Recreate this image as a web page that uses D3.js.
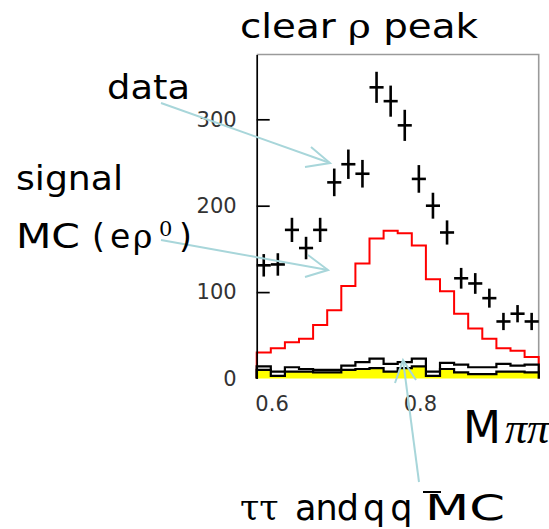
<!DOCTYPE html>
<html lang="en">
<head>
  <meta charset="UTF-8">
  <title>clear rho peak</title>
  <script src="https://d3js.org/d3.v7.min.js" charset="utf-8"></script>
  <style>
    body { margin: 0; background: #fff; }
    .note { font-family: 'DejaVu Sans', sans-serif; fill: #000; }
    .greek { font-family: 'DejaVu Serif', serif; }
    .greekit { font-family: 'Liberation Serif', serif; font-style: italic; }
  </style>
</head>
<body>
<script>
  // lower bin edges of M(pi pi)
  var binLow = [0.580, 0.599, 0.618, 0.637, 0.656, 0.675, 0.694, 0.713, 0.732, 0.751,
                0.770, 0.789, 0.808, 0.827, 0.846, 0.865, 0.884, 0.903, 0.922, 0.941]
  var binWidth = 0.019
  // data points and their errors
  var dataCounts = [131, 132, 172, 151, 172, 227, 248, 237, 337, 321,
                    293, 231, 200, 169, 116, 110, 93, 66, 75, 66]
  var dataErrors = [13, 13, 14, 13, 14, 16, 17, 16, 18, 18,
                    18, 16, 15, 14, 12, 12, 11, 10, 10, 10]
  // signal MC (e rho0)
  var signalMC = [30, 35, 42, 46, 62, 79, 107, 133, 162, 171,
                  168, 154, 115, 101, 75, 58, 46, 35, 32, 25]
  // background MC: tau tau + q qbar total, and the yellow part
  var bgTotal = [14, 8, 13, 11, 10, 10, 15, 19, 23, 17,
                 19, 23, 8, 18, 16, 13, 13, 17, 15, 16]
  var bgYellow = [10, 3, 8, 8, 7, 7, 10, 11, 12, 8,
                  12, 14, 3, 11, 7, 5, 5, 8, 8, 7]
  var xTicks = [0.6, 0.8]
  var yTicks = [0, 100, 200, 300]

  var width = 549
  var height = 529
  var plotL = 256.7, plotR = 538.7, plotT = 54.5, plotB = 378.5
  var arrowColor = '#a8d6da'

  var svg = d3.select('body').append('svg')
    .attr('width', width)
    .attr('height', height)

  var x = d3.scaleLinear().domain([0.58, 0.96]).range([plotL, plotR])
  var y = d3.scaleLinear().domain([0, 375]).range([plotB, plotT])

  function histPoints(vals){
    var pts = [[binLow[0], 0]]
    vals.forEach((v, i) => {
      pts.push([binLow[i], v])
      pts.push([binLow[i] + binWidth, v])
    })
    pts.push([binLow[vals.length - 1] + binWidth, 0])
    return pts
  }
  var line = d3.line().x(d => x(d[0])).y(d => y(d[1]))

  // frame (top and right in grey)
  svg.append('path')
    .attr('d', 'M' + plotL + ',' + plotT + 'H' + plotR + 'V' + plotB)
    .attr('fill', 'none')
    .attr('stroke', '#9a9a9a')
    .attr('stroke-width', 1.6)

  // signal MC
  svg.append('path')
    .attr('d', line(histPoints(signalMC)))
    .attr('fill', 'none')
    .attr('stroke', '#ff0000')
    .attr('stroke-width', 2)

  // background MC
  svg.append('path')
    .attr('d', line(histPoints(bgTotal)))
    .attr('fill', '#fff')
    .attr('stroke', '#000')
    .attr('stroke-width', 2.2)
  svg.append('path')
    .attr('d', line(histPoints(bgYellow)))
    .attr('fill', '#ffff00')
    .attr('stroke', '#000')
    .attr('stroke-width', 2.2)

  // data crosses
  var pts = svg.selectAll('.pt')
    .data(dataCounts)
    .enter()
    .append('g')
    .attr('class', 'pt')
  pts.append('line')
    .attr('x1', (d, i) => x(binLow[i]))
    .attr('x2', (d, i) => x(binLow[i] + binWidth))
    .attr('y1', d => y(d))
    .attr('y2', d => y(d))
  pts.append('line')
    .attr('x1', (d, i) => x(binLow[i] + binWidth / 2))
    .attr('x2', (d, i) => x(binLow[i] + binWidth / 2))
    .attr('y1', (d, i) => y(d - dataErrors[i]))
    .attr('y2', (d, i) => y(d + dataErrors[i]))
  pts.selectAll('line')
    .attr('stroke', '#000')
    .attr('stroke-width', 2.6)

  // axes
  var yAxis = svg.append('g')
    .attr('transform', 'translate(' + plotL + ',0)')
    .call(d3.axisLeft(y).tickValues(yTicks).tickSizeInner(-13).tickSizeOuter(0).tickPadding(20))
  yAxis.selectAll('.tick').filter(d => d === 0).select('line').remove()

  var xAxis = svg.append('g')
    .attr('transform', 'translate(0,' + plotB + ')')
    .call(d3.axisBottom(x).tickValues(xTicks).tickSize(0).tickPadding(18).tickFormat(d3.format('.1f')))
  xAxis.select('.domain').remove()

  ;[xAxis, yAxis].forEach(g => {
    g.attr('font-size', 21).attr('font-family', "'DejaVu Sans', sans-serif")
    g.selectAll('text').attr('fill', '#333')
    g.selectAll('line, path').attr('stroke', '#000').attr('stroke-width', 1.7)
  })

  // annotation arrows
  var arrows = [
    [[161, 103], [330, 163]],
    [[161, 240], [328, 270]],
    [[419, 482], [403, 360]]
  ]
  var heads = [
    [[311, 147], [330, 163], [305, 167]],
    [[308, 255], [328, 270], [305, 277]],
    [[395, 383], [403, 360], [416, 380]]
  ]
  arrows.forEach(a => {
    svg.append('line')
      .attr('x1', a[0][0]).attr('y1', a[0][1])
      .attr('x2', a[1][0]).attr('y2', a[1][1])
      .attr('stroke', arrowColor)
      .attr('stroke-width', 2)
  })
  heads.forEach(h => {
    svg.append('path')
      .attr('d', d3.line()(h))
      .attr('fill', 'none')
      .attr('stroke', arrowColor)
      .attr('stroke-width', 2)
  })

  // texts
  var title = svg.append('text')
    .attr('class', 'note')
    .attr('x', 240).attr('y', 38)
    .attr('font-size', 34)
    .attr('textLength', 238)
    .attr('lengthAdjust', 'spacingAndGlyphs')
  title.append('tspan').text('clear ')
  title.append('tspan').attr('class', 'greek').text('ρ')
  title.append('tspan').text(' peak')

  svg.append('text')
    .attr('class', 'note')
    .attr('x', 107).attr('y', 99)
    .attr('font-size', 33)
    .attr('textLength', 83)
    .attr('lengthAdjust', 'spacingAndGlyphs')
    .text('data')

  svg.append('text')
    .attr('class', 'note')
    .attr('x', 16).attr('y', 190)
    .attr('font-size', 33)
    .attr('textLength', 107)
    .attr('lengthAdjust', 'spacingAndGlyphs')
    .text('signal')

  var mc = svg.append('text')
    .attr('class', 'note')
    .attr('y', 248)
    .attr('font-size', 33)
  mc.append('tspan').attr('x', 16).attr('textLength', 64).attr('lengthAdjust', 'spacingAndGlyphs').text('MC')
  mc.append('tspan').attr('x', 92).text('(')
  mc.append('tspan').attr('x', 110).text('e')
  mc.append('tspan').attr('x', 133).attr('class', 'greek').text('ρ')
  mc.append('tspan').attr('x', 159).attr('y', 236).attr('font-size', 21).attr('class', 'greek').text('0')
  mc.append('tspan').attr('x', 179).attr('y', 248).text(')')

  var mpp = svg.append('text')
    .attr('class', 'note')
    .attr('y', 443)
    .attr('font-size', 44)
  mpp.append('tspan').attr('x', 463).text('M')
  mpp.append('tspan').attr('x', 505).attr('class', 'greekit').text('ππ')

  var bg = svg.append('text')
    .attr('class', 'note')
    .attr('y', 520)
    .attr('font-size', 35)
  bg.append('tspan').attr('x', 240).attr('class', 'greek').text('ττ')
  bg.append('tspan').attr('x', 295).attr('letter-spacing', -1).text('and')
  bg.append('tspan').attr('x', 363).attr('letter-spacing', 5).text('qq')
  bg.append('tspan').attr('x', 425).attr('textLength', 80).attr('lengthAdjust', 'spacingAndGlyphs').text('MC')
  svg.append('line')
    .attr('x1', 423).attr('x2', 441)
    .attr('y1', 492).attr('y2', 492)
    .attr('stroke', '#000')
    .attr('stroke-width', 2)
</script>
</body>
</html>
